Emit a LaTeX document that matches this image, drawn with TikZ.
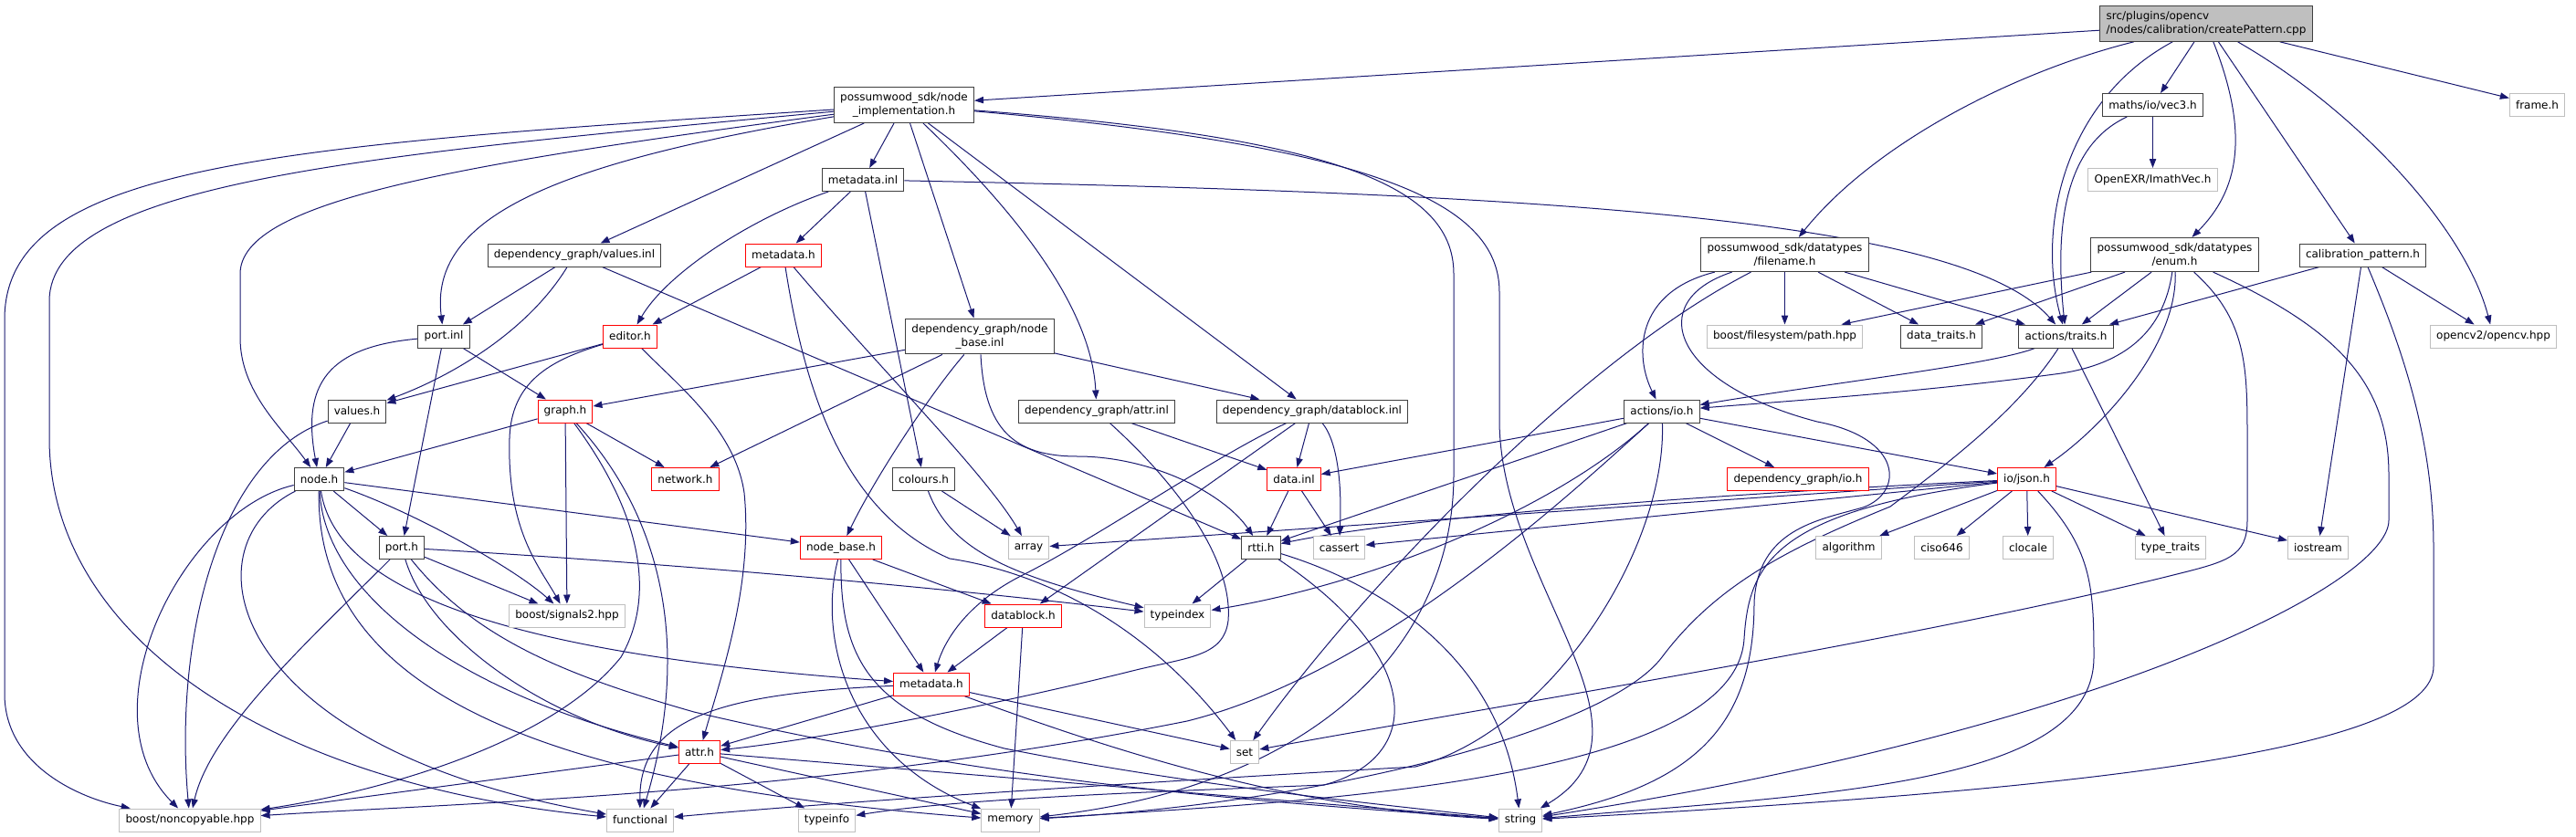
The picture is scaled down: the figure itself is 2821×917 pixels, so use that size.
\documentclass[tikz,border=0pt]{standalone}
\usepackage{fontspec}
\setmainfont{DejaVu Sans}
\usepackage{tikz}
\usetikzlibrary{arrows.meta, positioning, calc}

\definecolor{edgeblue}{HTML}{191970}
\definecolor{docgray}{HTML}{404040}
\definecolor{extgray}{HTML}{BFBFBF}
\definecolor{truncred}{HTML}{FF0000}

\pgfdeclarelayer{bg}
\pgfsetlayers{bg,main}

\tikzset{
  hdr/.style={draw=docgray, fill=white, line width=0.75pt, inner xsep=5pt, inner ysep=4.5pt,
    minimum height=18.75pt, align=center, font=\fontsize{9}{11.25}\selectfont},
  hdrred/.style={hdr, draw=truncred},
  hdrext/.style={hdr, draw=extgray},
  hdrroot/.style={hdr, fill=extgray, align=left},
  inc/.style={draw=edgeblue, line width=0.75pt, -{Triangle[length=7.5pt, width=5.5pt]}},
}

\begin{document}
\begin{tikzpicture}[x=0.75pt, y=-0.75pt]
    \useasboundingbox (0,0) rectangle (2821,917);

    % headers, row by row
    \node[hdrroot] (root) at (2416,26) {src/plugins/opencv\\/nodes/calibration/createPattern.cpp};
    \node[hdr] (nodeimpl) at (990,115) {possumwood\_sdk/node\\\_implementation.h};
    \node[hdr] (vecthree) at (2357.5,115) {maths/io/vec3.h};
    \node[hdrext] (frame) at (2778.5,115) {frame.h};
    \node[hdr] (metainl) at (945,197) {metadata.inl};
    \node[hdrext] (imath) at (2357.5,197) {OpenEXR/ImathVec.h};
    \node[hdr] (valuesinl) at (629,279.5) {dependency\_graph/values.inl};
    \node[hdrred] (metah) at (858,279.5) {metadata.h};
    \node[hdr] (filename) at (1954.5,279) {possumwood\_sdk/datatypes\\/filename.h};
    \node[hdr] (enumh) at (2381.5,279) {possumwood\_sdk/datatypes\\/enum.h};
    \node[hdr] (calib) at (2587.5,279.5) {calibration\_pattern.h};
    \node[hdr] (portinl) at (486,368.5) {port.inl};
    \node[hdrred] (editor) at (690,368.5) {editor.h};
    \node[hdr] (nodebaseinl) at (1073,368.5) {dependency\_graph/node\\\_base.inl};
    \node[hdrext] (pathhpp) at (1954.5,368.5) {boost/filesystem/path.hpp};
    \node[hdr] (datatraits) at (2126,368.5) {data\_traits.h};
    \node[hdr] (traits) at (2262.5,368.5) {actions/traits.h};
    \node[hdrext] (opencv) at (2730.5,368.5) {opencv2/opencv.hpp};
    \node[hdr] (valuesh) at (391,450.5) {values.h};
    \node[hdrred] (graph) at (619,450.5) {graph.h};
    \node[hdr] (attrinl) at (1201,450.5) {dependency\_graph/attr.inl};
    \node[hdr] (datablockinl) at (1437,450.5) {dependency\_graph/datablock.inl};
    \node[hdr] (actionsio) at (1820,450.5) {actions/io.h};
    \node[hdr] (nodeh) at (349.5,525) {node.h};
    \node[hdrred] (network) at (750.5,525) {network.h};
    \node[hdr] (colours) at (1011.5,525) {colours.h};
    \node[hdrred] (datainl) at (1417,525) {data.inl};
    \node[hdrred] (dgio) at (1969,525) {dependency\_graph/io.h};
    \node[hdrred] (json) at (2219.5,525) {io/json.h};
    \node[hdr] (porth) at (440,600) {port.h};
    \node[hdrred] (nodebase) at (921,600) {node\_base.h};
    \node[hdrext] (array) at (1126.5,600) {array};
    \node[hdr] (rtti) at (1381,600) {rtti.h};
    \node[hdrext] (cassert) at (1466.5,600) {cassert};
    \node[hdrext] (algorithm) at (2024.5,600) {algorithm};
    \node[hdrext] (ciso) at (2126.5,600) {ciso646};
    \node[hdrext] (clocale) at (2221,600) {clocale};
    \node[hdrext] (typetraits) at (2377,600) {type\_traits};
    \node[hdrext] (iostream) at (2538.5,600) {iostream};
    \node[hdrext] (signals) at (621,674.5) {boost/signals2.hpp};
    \node[hdrred] (datablock) at (1120.5,674.5) {datablock.h};
    \node[hdrext] (typeindex) at (1289.5,674.5) {typeindex};
    \node[hdrred] (metahb) at (1020,749.5) {metadata.h};
    \node[hdrred] (attr) at (766,824) {attr.h};
    \node[hdrext] (set) at (1363,824) {set};
    \node[hdrext] (noncopy) at (208,898.5) {boost/noncopyable.hpp};
    \node[hdrext] (functional) at (701,898.5) {functional};
    \node[hdrext] (typeinfo) at (905.5,898.5) {typeinfo};
    \node[hdrext] (memory) at (1106.5,898.5) {memory};
    \node[hdrext] (string) at (1665,898.5) {string};

    \begin{pgfonlayer}{bg}
    % createPattern.cpp
    \draw[inc] (root) -- (nodeimpl);
    \draw[inc] (root) .. controls (2200,80) and (2050,160) .. (filename);
    \draw[inc] (root) .. controls (2260,110) and (2230,250) .. (traits);
    \draw[inc] (root) -- (vecthree);
    \draw[inc] (root) .. controls (2465,150) and (2450,210) .. (enumh);
    \draw[inc] (root) -- (calib);
    \draw[inc] (root) .. controls (2580,120) and (2700,250) .. (opencv);
    \draw[inc] (root) -- (frame);

    % node_implementation.h
    \draw[inc] (nodeimpl) .. controls (300,160) and (5,180) .. (5,350) -- (5,760) .. controls (5,840) and (90,875) .. (noncopy);
    \draw[inc] (nodeimpl) .. controls (400,170) and (54,200) .. (54,330) -- (54,480) .. controls (54,700) and (300,860) .. (functional);
    \draw[inc] (nodeimpl) .. controls (500,180) and (263,220) .. (263,300) -- (263,370) .. controls (263,430) and (310,470) .. (nodeh);
    \draw[inc] (nodeimpl) .. controls (600,180) and (470,240) .. (portinl);
    \draw[inc] (nodeimpl) -- (valuesinl);
    \draw[inc] (nodeimpl) -- (metainl);
    \draw[inc] (nodeimpl) -- (nodebaseinl);
    \draw[inc] (nodeimpl) .. controls (1100,220) and (1195,330) .. (attrinl);
    \draw[inc] (nodeimpl) -- (datablockinl);
    \draw[inc] (nodeimpl) .. controls (1450,150) and (1592,200) .. (1592,300) -- (1592,520) .. controls (1592,700) and (1450,860) .. (memory);
    \draw[inc] (nodeimpl) .. controls (1500,160) and (1642,220) .. (1642,320) -- (1642,460) .. controls (1642,640) and (1830,800) .. (string);

    % vec3.h
    \draw[inc] (vecthree) -- (imath);
    \draw[inc] (vecthree) .. controls (2260,160) and (2250,250) .. (traits);

    % metadata.inl
    \draw[inc] (metainl) -- (metah);
    \draw[inc] (metainl) .. controls (820,240) and (730,300) .. (editor);
    \draw[inc] (metainl) -- (colours);
    \draw[inc] (metainl) .. controls (1700,212) and (2150,240) .. (traits);

    % values.inl
    \draw[inc] (valuesinl) -- (portinl);
    \draw[inc] (valuesinl) .. controls (580,360) and (500,410) .. (valuesh);
    \draw[inc] (valuesinl) -- (rtti);

    % metadata.h
    \draw[inc] (metah) -- (editor);
    \draw[inc] (metah) .. controls (880,420) and (920,560) .. (1040,612) .. controls (1160,630) and (1270,700) .. (set);
    \draw[inc] (metah) .. controls (960,400) and (1080,520) .. (array);

    % port.inl
    \draw[inc] (portinl) .. controls (360,380) and (330,420) .. (nodeh);
    \draw[inc] (portinl) -- (porth);
    \draw[inc] (portinl) -- (graph);

    % editor.h
    \draw[inc] (editor) -- (valuesh);
    \draw[inc] (editor) .. controls (600,395) and (560,420) .. (558,480) .. controls (555,580) and (590,620) .. (signals);
    \draw[inc] (editor) .. controls (740,420) and (805,470) .. (815,540) .. controls (825,640) and (790,740) .. (attr);

    % node_base.inl
    \draw[inc] (nodebaseinl) -- (graph);
    \draw[inc] (nodebaseinl) -- (network);
    \draw[inc] (nodebaseinl) .. controls (1020,430) and (960,520) .. (nodebase);
    \draw[inc] (nodebaseinl) .. controls (1078,470) and (1110,500) .. (1180,500) .. controls (1260,500) and (1340,540) .. (rtti);
    \draw[inc] (nodebaseinl) -- (datablockinl);

    % attr.inl
    \draw[inc] (attrinl) -- (datainl);
    \draw[inc] (attrinl) .. controls (1300,540) and (1350,620) .. (1345,680) .. controls (1340,720) and (1300,720) .. (1240,735) .. controls (1100,770) and (900,810) .. (attr);

    % datablock.inl
    \draw[inc] (datablockinl) -- (datainl);
    \draw[inc] (datablockinl) .. controls (1462,480) and (1470,520) .. (cassert);
    \draw[inc] (datablockinl) -- (datablock);
    \draw[inc] (datablockinl) .. controls (1330,500) and (1200,590) .. (1120,630) .. controls (1060,660) and (1035,700) .. (metahb);

    % filename.h
    \draw[inc] (filename) .. controls (1790,320) and (1790,390) .. (actionsio);
    \draw[inc] (filename) -- (pathhpp);
    \draw[inc] (filename) -- (datatraits);
    \draw[inc] (filename) -- (traits);
    \draw[inc] (filename) .. controls (1720,400) and (1480,660) .. (set);
    \draw[inc] (filename) .. controls (1800,330) and (1830,420) .. (1990,462) .. controls (2085,480) and (2085,540) .. (2040,556) .. controls (1990,570) and (1925,580) .. (1921,660) .. controls (1921,800) and (1850,860) .. (string);

    % enum.h
    \draw[inc] (enumh) -- (pathhpp);
    \draw[inc] (enumh) -- (datatraits);
    \draw[inc] (enumh) -- (traits);
    \draw[inc] (enumh) .. controls (2370,360) and (2330,400) .. (2250,410) .. controls (2100,430) and (1950,440) .. (actionsio);
    \draw[inc] (enumh) .. controls (2385,380) and (2300,470) .. (json);
    \draw[inc] (enumh) .. controls (2460,350) and (2461,400) .. (2461,480) -- (2461,570) .. controls (2461,610) and (2440,615) .. (2380,630) .. controls (2100,700) and (1600,780) .. (set);
    \draw[inc] (enumh) .. controls (2560,360) and (2616,420) .. (2616,520) -- (2616,570) .. controls (2616,640) and (2300,800) .. (string);

    % calibration_pattern.h
    \draw[inc] (calib) -- (traits);
    \draw[inc] (calib) -- (iostream);
    \draw[inc] (calib) -- (opencv);
    \draw[inc] (calib) .. controls (2630,380) and (2665,480) .. (2665,600) -- (2665,730) .. controls (2665,820) and (2300,865) .. (string);

    % actions/traits.h
    \draw[inc] (traits) .. controls (2180,400) and (2000,420) .. (actionsio);
    \draw[inc] (traits) -- (typetraits);
    \draw[inc] (traits) .. controls (2210,450) and (2130,510) .. (2070,555) .. controls (1960,600) and (1880,640) .. (1820,720) .. controls (1760,800) and (1450,880) .. (memory);

    % actions/io.h
    \draw[inc] (actionsio) -- (dgio);
    \draw[inc] (actionsio) -- (json);
    \draw[inc] (actionsio) -- (datainl);
    \draw[inc] (actionsio) -- (rtti);
    \draw[inc] (actionsio) .. controls (1700,560) and (1500,640) .. (typeindex);
    \draw[inc] (actionsio) .. controls (1700,560) and (1500,740) .. (1300,790) .. controls (900,870) and (500,880) .. (noncopy);
    \draw[inc] (actionsio) .. controls (1825,600) and (1700,800) .. (1550,840) .. controls (1200,860) and (900,880) .. (functional);

    % io/json.h
    \draw[inc] (json) -- (iostream);
    \draw[inc] (json) -- (typetraits);
    \draw[inc] (json) -- (clocale);
    \draw[inc] (json) -- (ciso);
    \draw[inc] (json) -- (algorithm);
    \draw[inc] (json) -- (cassert);
    \draw[inc] (json) .. controls (1900,540) and (1550,565) .. (rtti);
    \draw[inc] (json) -- (array);
    \draw[inc] (json) .. controls (2290,600) and (2293,640) .. (2293,720) .. controls (2293,860) and (2000,870) .. (string);
    \draw[inc] (json) .. controls (1940,560) and (1915,620) .. (1910,700) .. controls (1900,860) and (1400,880) .. (memory);

    % rtti.h, data.inl, colours.h
    \draw[inc] (rtti) -- (typeindex);
    \draw[inc] (rtti) .. controls (1480,630) and (1640,700) .. (string);
    \draw[inc] (rtti) .. controls (1560,720) and (1560,830) .. (1450,860) .. controls (1250,868) and (1050,875) .. (typeinfo);
    \draw[inc] (datainl) -- (rtti);
    \draw[inc] (datainl) -- (cassert);
    \draw[inc] (colours) -- (array);
    \draw[inc] (colours) .. controls (1040,600) and (1100,630) .. (typeindex);

    % node_base.h, datablock.h
    \draw[inc] (nodebase) -- (datablock);
    \draw[inc] (nodebase) -- (metahb);
    \draw[inc] (nodebase) .. controls (895,700) and (930,830) .. (memory);
    \draw[inc] (nodebase) .. controls (920,720) and (950,780) .. (1100,820) .. controls (1300,860) and (1500,880) .. (string);
    \draw[inc] (datablock) -- (metahb);
    \draw[inc] (datablock) -- (memory);

    % metadata.h (lower)
    \draw[inc] (metahb) -- (attr);
    \draw[inc] (metahb) .. controls (780,760) and (700,790) .. (functional);
    \draw[inc] (metahb) -- (set);
    \draw[inc] (metahb) .. controls (1200,815) and (1400,885) .. (string);

    % attr.h
    \draw[inc] (attr) -- (noncopy);
    \draw[inc] (attr) -- (functional);
    \draw[inc] (attr) -- (typeinfo);
    \draw[inc] (attr) -- (memory);
    \draw[inc] (attr) -- (string);

    % port.h
    \draw[inc] (porth) .. controls (340,700) and (230,800) .. (noncopy);
    \draw[inc] (porth) -- (signals);
    \draw[inc] (porth) .. controls (700,615) and (1000,640) .. (typeindex);
    \draw[inc] (porth) .. controls (470,700) and (600,790) .. (attr);
    \draw[inc] (porth) .. controls (520,700) and (620,740) .. (760,780) .. controls (1100,860) and (1400,880) .. (string);

    % node.h
    \draw[inc] (nodeh) -- (porth);
    \draw[inc] (nodeh) .. controls (450,560) and (560,620) .. (signals);
    \draw[inc] (nodeh) -- (nodebase);
    \draw[inc] (nodeh) .. controls (200,560) and (90,780) .. (noncopy);
    \draw[inc] (nodeh) .. controls (200,600) and (250,820) .. (functional);
    \draw[inc] (nodeh) .. controls (370,660) and (600,720) .. (metahb);
    \draw[inc] (nodeh) .. controls (355,650) and (500,760) .. (attr);
    \draw[inc] (nodeh) .. controls (345,760) and (600,860) .. (memory);

    % values.h, graph.h
    \draw[inc] (valuesh) -- (nodeh);
    \draw[inc] (valuesh) .. controls (240,500) and (190,700) .. (noncopy);
    \draw[inc] (graph) -- (nodeh);
    \draw[inc] (graph) -- (signals);
    \draw[inc] (graph) .. controls (700,560) and (720,650) .. (680,720) .. controls (600,820) and (400,870) .. (noncopy);
    \draw[inc] (graph) .. controls (720,560) and (760,700) .. (functional);
    \draw[inc] (graph) -- (network);
    \end{pgfonlayer}
\end{tikzpicture}
\end{document}
